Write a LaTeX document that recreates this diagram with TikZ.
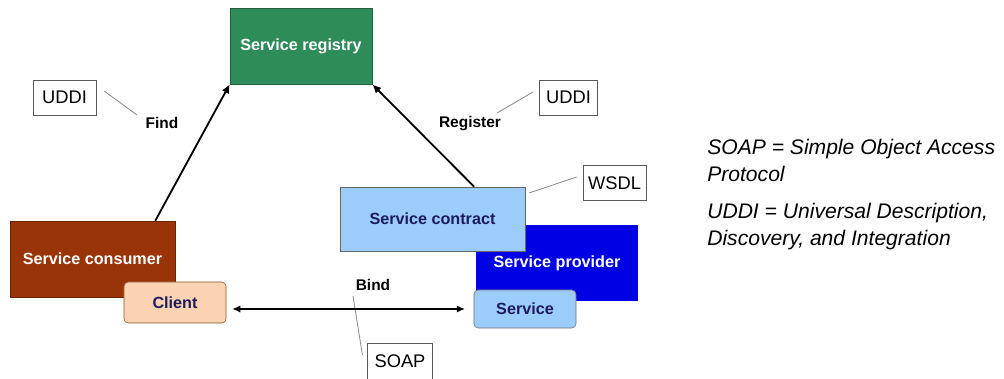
\documentclass[tikz,border=0pt]{standalone}
\usepackage{fontspec}
\setmainfont{Liberation Sans}
\usepackage{tikz}
\usetikzlibrary{arrows.meta}

\definecolor{regGreen}{RGB}{46,139,90}
\definecolor{consBrown}{RGB}{153,52,8}
\definecolor{clientPeach}{RGB}{251,210,178}
\definecolor{contractBlue}{RGB}{155,204,250}
\definecolor{provBlue}{RGB}{0,0,228}
\definecolor{darkNavy}{RGB}{28,28,92}

\tikzset{
    mainbox/.style={rectangle, inner sep=0pt, text=white,
        font=\fontsize{11.5}{13}\selectfont\bfseries},
    tag/.style={draw=black!65, fill=white, inner sep=0pt,
        minimum height=0.88cm, font=\fontsize{13}{15}\selectfont},
    lbl/.style={font=\fontsize{11}{13}\selectfont\bfseries},
    pointer/.style={draw=black!45, line width=0.6pt},
    arr/.style={-{Latex[length=2.2mm,width=2mm]}, line width=1.3pt},
    biarr/.style={{Latex[length=2mm,width=1.8mm]}-{Latex[length=2mm,width=1.8mm]}, line width=0.9pt},
    note/.style={align=left, anchor=west, inner sep=0pt,
        font=\fontsize{15}{19}\selectfont\itshape}
}

\begin{document}
\begin{tikzpicture}[x=0.025cm, y=-0.025cm]
        \useasboundingbox (0,0) rectangle (1004,379);

        % boxes
        \node[mainbox, fill=regGreen, draw=regGreen!70!black, minimum width=3.55cm, minimum height=1.9cm] (registry) at (301,46) {Service registry};
        \node[mainbox, fill=consBrown, draw=consBrown!70!black, minimum width=4.125cm, minimum height=1.9cm] (consumer) at (92.5,259) {Service consumer};
        \node[mainbox, fill=clientPeach, draw=brown!70!black, rounded corners=3pt, text=darkNavy, minimum width=2.55cm, minimum height=1.025cm] (client) at (175,302.5) {Client};

        \node[mainbox, fill=provBlue, minimum width=4.05cm, minimum height=1.9cm] (provider) at (557,263) {\raisebox{-0.1cm}{Service provider}};
        \node[mainbox, fill=contractBlue, draw=black!60, text=darkNavy, minimum width=4.625cm, minimum height=1.6cm] (contract) at (432.5,219) {Service contract};
        \node[mainbox, fill=contractBlue, draw=black!55, rounded corners=3pt, text=darkNavy, minimum width=2.55cm, minimum height=0.95cm] (service) at (525,309) {Service};

        % tags
        \node[tag, minimum width=1.575cm] (uddiL) at (64.5,97.5) {UDDI};
        \node[tag, minimum width=1.45cm] (uddiR) at (568.5,97.5) {UDDI};
        \node[tag, minimum width=1.575cm] (wsdl) at (614.5,183) {WSDL};
        \node[tag, minimum width=1.625cm, minimum height=0.9cm] (soap) at (400,361) {SOAP};

        % labels
        \node[lbl] (find) at (162,123) {Find};
        \node[lbl] (register) at (470,124) {Register};
        \node[lbl] (bind) at (373,285) {Bind};

        \coordinate (findEnd) at (137,115);
        \coordinate (registerEnd) at (497,113);
        \coordinate (wsdlEnd) at (529,193);
        \coordinate (bindEnd) at (353,296);

        \draw[pointer] ([xshift=0.2cm,yshift=0.16cm]uddiL.east) -- (findEnd);
        \draw[pointer] ([xshift=-0.15cm,yshift=0.14cm]uddiR.west) -- (registerEnd);
        \draw[pointer] ([xshift=-0.15cm,yshift=0.15cm]wsdl.west) -- (wsdlEnd);
        \draw[pointer] ([xshift=-0.12cm,yshift=0.15cm]soap.west) -- (bindEnd);

        % arrows
        \draw[arr] ([xshift=-0.5cm]consumer.north east) -- (registry.south west);
        \draw[arr] ([xshift=1.04cm]contract.north) -- (registry.south east);
        \draw[biarr, shorten <=0.15cm, shorten >=0.22cm] (client.east |- service.west) -- (service.west);

        % notes
        \node[note] (soapnote) at (707,160.5) {SOAP = Simple Object Access\\Protocol};
        \node[note] (uddinote) at (707,226.5) {UDDI = Universal Description,\\Discovery, and Integration};
    \end{tikzpicture}
\end{document}
